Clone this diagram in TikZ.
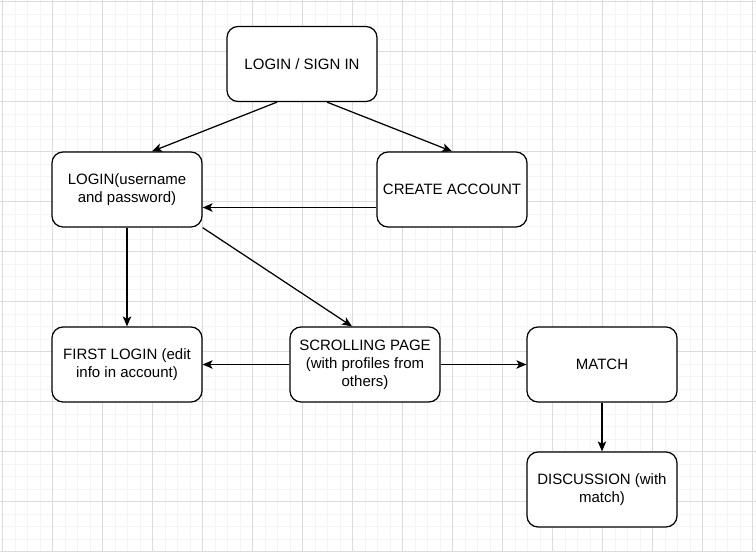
\documentclass[tikz,border=0pt]{standalone}
\usepackage{fontspec}
\setmainfont{Liberation Sans}
\usetikzlibrary{arrows.meta}
\definecolor{gridmajor}{RGB}{220,220,220}
\definecolor{gridminor}{RGB}{244,244,244}
\begin{document}
\begin{tikzpicture}[x=1pt,y=-1pt,
  box/.style={draw=black, line width=1.25pt, rounded corners=11pt, fill=white,
    minimum width=150pt, minimum height=75pt, align=center,
    font=\fontsize{15}{18}\selectfont, inner sep=0pt},
  conn/.style={draw=black, line width=1.25pt, -{Stealth[length=10pt,width=8.5pt,inset=2.5pt]}},
  minorgrid/.style={draw=gridminor, line width=1pt},
  majorgrid/.style={draw=gridmajor, line width=1pt}]
\useasboundingbox (0,0) rectangle (756,552);
\fill[white] (0,0) rectangle (756,552);
% grid
\foreach \i in {0,...,60} {
  \pgfmathsetmacro{\gx}{2.5+12.5*\i}
  \draw[minorgrid] (\gx,0) -- (\gx,552);
}
\foreach \i in {0,...,44} {
  \pgfmathsetmacro{\gy}{1.5+12.5*\i}
  \draw[minorgrid] (0,\gy) -- (756,\gy);
}
\foreach \i in {0,...,15} {
  \pgfmathsetmacro{\gx}{2.5+50*\i}
  \draw[majorgrid] (\gx,0) -- (\gx,552);
}
\foreach \i in {0,...,11} {
  \pgfmathsetmacro{\gy}{1.5+50*\i}
  \draw[majorgrid] (0,\gy) -- (756,\gy);
}
% nodes
\node[box] (top) at (302,64) {LOGIN / SIGN IN};
\node[box] (login) at (127,189.5) {LOGIN(username\\and password)};
\node[box] (create) at (452,189.5) {CREATE ACCOUNT};
\node[box] (first) at (127,364.5) {FIRST LOGIN (edit\\info in account)};
\node[box] (scroll) at (365,364.5) {SCROLLING PAGE\\(with profiles from\\others)};
\node[box] (match) at (602,364.5) {MATCH};
\node[box] (disc) at (602,489.5) {DISCUSSION (with\\match)};
% connectors
\draw[conn] ([xshift=-25pt]top.south) -- ([xshift=25pt]login.north);
\draw[conn] ([xshift=25pt]top.south) -- (create.north);
\draw[conn] ([yshift=-18pt]create.west) -- ([yshift=-18pt]login.east);
\draw[conn] (login.south) -- (first.north);
\draw[conn] (login.south east) -- ([xshift=-13pt]scroll.north);
\draw[conn] (scroll.west) -- (first.east);
\draw[conn] (scroll.east) -- (match.west);
\draw[conn] (match.south) -- (disc.north);
\end{tikzpicture}
\end{document}
